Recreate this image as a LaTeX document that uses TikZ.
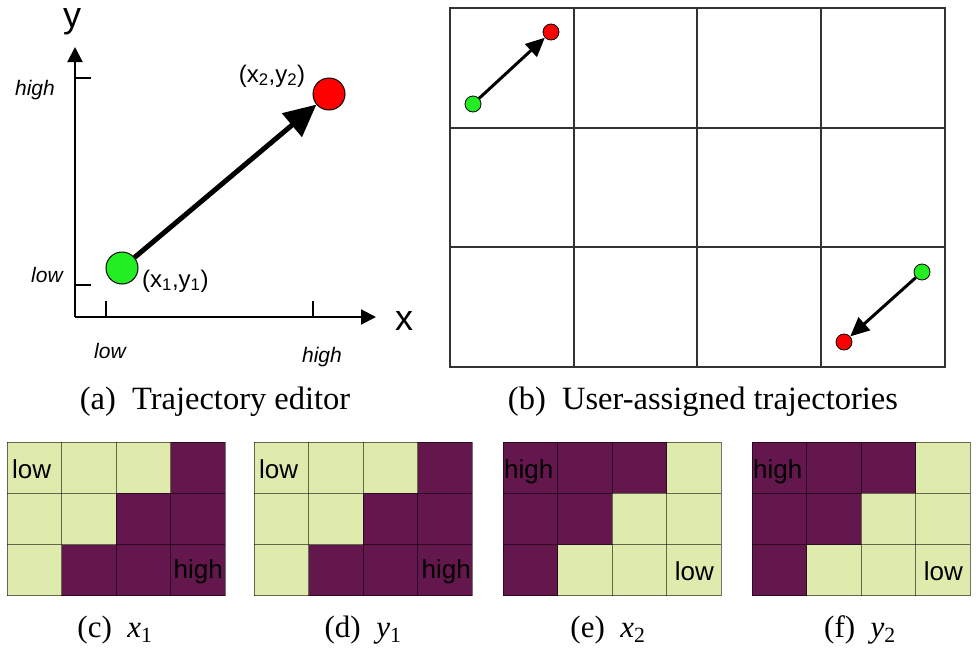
\documentclass[tikz,border=0pt]{standalone}
\usepackage{fontspec}
\setmainfont{Liberation Serif}
\newfontfamily\arialf{Liberation Sans}
\usetikzlibrary{arrows.meta}
\definecolor{lightcell}{HTML}{DFEBAD}
\definecolor{darkcell}{HTML}{63174D}
\definecolor{ptgreen}{HTML}{22EE22}
\definecolor{ptred}{HTML}{FF0000}
\definecolor{cellline}{HTML}{333333}
\tikzset{
  axisline/.style={line width=2pt,-{Triangle[length=15pt,width=15pt]}},
  tickline/.style={line width=1.6pt},
  bigpt/.style={circle,draw=black,line width=1pt,minimum size=32pt,inner sep=0pt},
  smallpt/.style={circle,draw=black,line width=0.8pt,minimum size=16pt,inner sep=0pt},
  bigarrow/.style={line width=5pt,-{Triangle[length=32pt,width=30pt]}},
  smallarrow/.style={line width=3pt,-{Triangle[length=19pt,width=17pt]}},
  axlabel/.style={font=\arialf\itshape\fontsize{21}{25}\selectfont,anchor=base,inner sep=0pt},
  ptlabel/.style={font=\arialf\fontsize{24}{28}\selectfont,anchor=base,inner sep=0pt},
  biglabel/.style={font=\arialf\fontsize{36}{40}\selectfont,anchor=base,inner sep=0pt},
  caption/.style={font=\fontsize{32.5}{38}\selectfont,anchor=base,inner sep=0pt},
  subcaption/.style={font=\fontsize{31}{36}\selectfont,anchor=base,inner sep=0pt},
  celllabel/.style={font=\arialf\fontsize{26}{30}\selectfont,anchor=base,inner sep=0pt},
  gridline/.style={line width=1.5pt,draw=cellline},
  cellborder/.style={draw=black,draw opacity=0.55,line width=1pt}
}
\begin{document}
\begin{tikzpicture}[x=1pt,y=-1pt]
\useasboundingbox (0,0) rectangle (978,651);
\fill[white] (0,0) rectangle (978,651);

% ---------- panel (a) ----------
\coordinate (O) at (75,317);
\coordinate (ytip) at (75,47);
\coordinate (xtip) at (376,317);
\draw[axisline] (O) -- (ytip);
\draw[axisline] (O) -- (xtip);
\coordinate (th0) at (75,78);  \coordinate (th1) at (91,78);
\coordinate (tl0) at (75,285); \coordinate (tl1) at (91,285);
\coordinate (xl0) at (106,317); \coordinate (xl1) at (106,301);
\coordinate (xh0) at (313,317); \coordinate (xh1) at (313,301);
\draw[tickline] (th0) -- (th1);
\draw[tickline] (tl0) -- (tl1);
\draw[tickline] (xl0) -- (xl1);
\draw[tickline] (xh0) -- (xh1);
\node[biglabel] (ylab) at (72,27) {y};
\node[biglabel] (xlab) at (404,330) {x};
\node[axlabel] (yhigh) at (35,95) {high};
\node[axlabel] (ylow) at (47,282) {low};
\node[axlabel] (xlow) at (110,358) {low};
\node[axlabel] (xhigh) at (322,362) {high};
\node[bigpt,fill=ptgreen] (g1) at (122,268) {};
\node[bigpt,fill=ptred] (r1) at (329,94) {};
\draw[bigarrow] (g1) -- (r1);
\node[ptlabel] (p2) at (272,82) {(x\textsubscript{2},y\textsubscript{2})};
\node[ptlabel,anchor=base west] (p1) at (142,287) {(x\textsubscript{1},y\textsubscript{1})};
\node[caption] (capa) at (215,409) {(a)\hskip0.5em Trajectory editor};

% ---------- panel (b) ----------
\draw[gridline] (450,8) rectangle (945,367);
\foreach \vx in {574,697,821}{\draw[gridline] (\vx,8) -- (\vx,367);}
\foreach \hy in {128,247}{\draw[gridline] (450,\hy) -- (945,\hy);}
\node[smallpt,fill=ptgreen] (g2) at (473,104) {};
\node[smallpt,fill=ptred] (r2) at (551,32) {};
\draw[smallarrow] (g2) -- (r2);
\node[smallpt,fill=ptgreen] (g3) at (922,272) {};
\node[smallpt,fill=ptred] (r3) at (844,342) {};
\draw[smallarrow] (g3) -- (r3);
\node[caption] (capb) at (703,409) {(b)\hskip0.5em User-assigned trajectories};

% ---------- panels (c)-(f) ----------
\foreach \gx/\inv in {7/0,254/0,503/1,752/1}{
  \foreach \i in {0,...,3}{
    \foreach \j in {0,...,2}{
      \pgfmathtruncatemacro\s{(\i+\j>2) ? 1 : 0}
      \ifnum\s=\inv \def\cc{lightcell}\else\def\cc{darkcell}\fi
      \fill[fill=\cc] (\gx+\i*54.5,442+\j*51.33) rectangle ++(54.5,51.33);
    }
  }
  \foreach \i in {0,...,4}{\draw[cellborder] (\gx+\i*54.5,442) -- (\gx+\i*54.5,596);}
  \foreach \j in {0,...,3}{\draw[cellborder] (\gx,442+\j*51.33) -- (\gx+218,442+\j*51.33);}
}
\node[celllabel,anchor=base west] (cl) at (12,478) {low};
\node[celllabel,anchor=base east] (ch) at (223,578) {high};
\node[celllabel,anchor=base west] (dl) at (259,478) {low};
\node[celllabel,anchor=base east] (dh) at (471,578) {high};
\node[celllabel,anchor=base west] (eh) at (504,478) {high};
\node[celllabel,anchor=base east] (el) at (714,580) {low};
\node[celllabel,anchor=base west] (fh) at (753,478) {high};
\node[celllabel,anchor=base east] (fl) at (963,580) {low};

\node[subcaption] (capc) at (115,637) {(c)\hskip0.5em \textit{x}\textsubscript{1}};
\node[subcaption] (capd) at (363,637) {(d)\hskip0.5em \textit{y}\textsubscript{1}};
\node[subcaption] (cape) at (608,637) {(e)\hskip0.5em \textit{x}\textsubscript{2}};
\node[subcaption] (capf) at (860,637) {(f)\hskip0.5em \textit{y}\textsubscript{2}};
\end{tikzpicture}
\end{document}
